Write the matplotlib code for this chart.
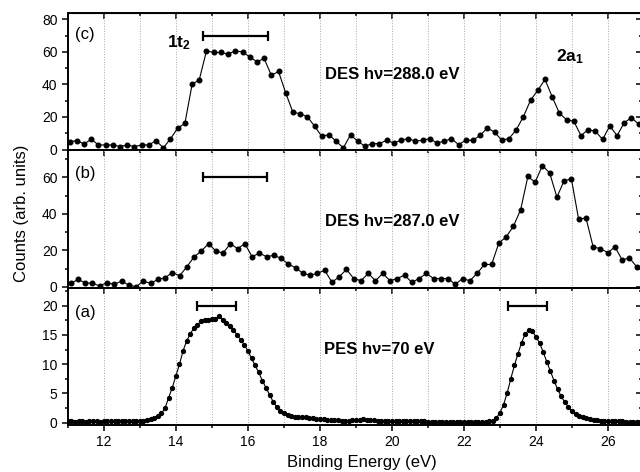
import numpy as np
import matplotlib
matplotlib.use('Agg')
import matplotlib.pyplot as plt
from matplotlib.ticker import MultipleLocator

plt.rcParams['font.family'] = ['Liberation Sans', 'DejaVu Sans']
plt.rcParams['mathtext.fontset'] = 'custom'
plt.rcParams['mathtext.rm'] = 'Liberation Sans'
plt.rcParams['mathtext.bf'] = 'Liberation Sans:bold'

# (c) DES hv=288.0 eV, 0.2 eV steps
des288_start, des288_step = 11.05, 0.2
des288 = [4.7, 5.5, 3.4, 6.3, 2.8, 2.8, 2.8, 1.8, 2.8, 1.8,
          2.8, 2.8, 5.5, 1.0, 6.5, 13.2, 16.0, 40.0, 43.0, 60.7,
          59.7, 59.7, 58.7, 60.7, 60.0, 57.0, 54.0, 56.0, 45.7, 48.0,
          34.8, 22.9, 22.0, 20.2, 14.4,
          8.1, 9.1, 5.1, 1.0, 9.1, 5.1, 2.0, 3.6, 3.6, 5.7,
          4.0, 5.7, 6.7, 5.1, 5.7, 6.7, 4.0, 5.1, 6.7, 3.0,
          5.7, 5.7, 8.7, 13.2, 10.7, 5.7, 6.7, 12.1, 20.2, 30.4,
          36.4, 43.1, 32.4, 22.3, 18.3, 17.4, 8.5, 12.3, 11.2, 6.2,
          14.6, 8.5, 16.5, 19.6, 15.6]

# (b) DES hv=287.0 eV
des287_start, des287_step = 11.08, 0.2015
des287 = [1.8, 4.0, 2.2, 1.8, 0.5, 2.2, 1.3, 3.1, 0.9, 0.0,
          3.1, 1.8, 4.0, 4.9, 7.8, 6.0, 10.9, 16.4, 19.6, 23.6,
          19.6, 18.5, 23.6, 20.9, 23.6, 16.4, 18.5, 16.4, 17.3, 15.5,
          12.4, 10.4, 7.3, 6.4, 7.3,
          9.1, 2.4, 5.5, 9.5, 4.5, 3.3, 7.3, 3.3, 7.3, 3.3,
          4.5, 6.4, 2.4, 4.5, 7.3, 4.5, 4.5, 4.5, 1.3, 4.5,
          3.3, 7.3, 12.2, 12.2, 24.0, 27.3, 33.1, 42.2, 60.5, 57.3,
          66.4, 62.4, 49.1, 58.2, 59.0, 36.9, 37.8, 21.8, 20.9, 18.7,
          21.8, 14.7, 15.8, 10.9]

# (a) PES hv=70 eV, 0.1 eV steps
pes_start, pes_step = 11.0, 0.1
pes70 = [0.2, 0.2, 0.15, 0.2, 0.2, 0.15, 0.2, 0.2, 0.2, 0.15,
         0.2, 0.2, 0.2, 0.2, 0.2, 0.2, 0.2, 0.25, 0.25, 0.3,
         0.3, 0.35, 0.45, 0.6, 0.8, 1.1,
         1.6, 2.5, 4.3, 6.0, 8.0, 10.0, 12.3, 14.0, 15.2, 16.2,
         16.7, 17.4, 17.6, 17.6, 17.7, 17.8, 18.2, 17.6, 17.0, 16.6,
         15.9, 15.0, 14.2, 13.3, 12.3, 11.0, 9.8, 8.6, 7.2, 6.0,
         4.8, 3.6, 2.7, 2.0, 1.6,
         1.3, 1.15, 1.05, 1.0, 0.95, 0.9, 0.85, 0.75, 0.65, 0.6,
         0.55, 0.5, 0.45, 0.4, 0.4, 0.35, 0.35, 0.35, 0.4, 0.45,
         0.5, 0.55, 0.5, 0.45, 0.4, 0.35, 0.3, 0.3, 0.25, 0.25,
         0.2, 0.2, 0.2, 0.2, 0.2, 0.2, 0.2, 0.2, 0.2,
         0.15, 0.15, 0.15, 0.15, 0.15, 0.15, 0.15, 0.15, 0.15, 0.15,
         0.15, 0.15, 0.15, 0.15, 0.15, 0.15, 0.15,
         0.2, 0.35, 0.8, 1.7, 3.1, 5.1, 7.5, 9.8, 11.8, 13.7,
         15.2, 15.8, 15.6, 14.7, 13.6, 12.1, 10.4, 8.8, 7.2, 5.7,
         4.5, 3.5, 2.7, 2.0, 1.5, 1.2, 1.0, 0.8, 0.65, 0.5,
         0.42, 0.36, 0.3, 0.26,
         0.22, 0.2, 0.2, 0.2, 0.18, 0.18, 0.18, 0.18, 0.18]

# horizontal bars (left, right, height)
bars_c = [(14.75, 16.56, 69.6)]
bars_b = [(14.75, 16.53, 60.0)]
bars_a = [(14.6, 15.66, 20.0), (23.22, 24.31, 20.0)]


def energies(start, step, n):
    return start + step * np.arange(n)


def style_axis(ax, ylim, ymajor, yminor, top_ticks=False):
    ax.set_facecolor('none')
    ax.set_xlim(11, 26.95)
    ax.set_ylim(*ylim)
    ax.xaxis.set_major_locator(MultipleLocator(2))
    ax.xaxis.set_minor_locator(MultipleLocator(1))
    ax.yaxis.set_major_locator(MultipleLocator(ymajor))
    ax.yaxis.set_minor_locator(MultipleLocator(yminor))
    ax.tick_params(which='both', direction='out', top=False, right=False,
                   labelsize=10, width=1.1)
    ax.tick_params(which='major', length=4)
    ax.tick_params(which='minor', length=2.5)
    ax.grid(axis='x', which='both', ls=':', color='0.65', lw=0.7)
    ax.set_axisbelow(True)
    for s in ax.spines.values():
        s.set_linewidth(1.4)
    sec = ax.secondary_yaxis('right')
    sec.yaxis.set_major_locator(MultipleLocator(ymajor))
    sec.yaxis.set_minor_locator(MultipleLocator(yminor))
    sec.tick_params(which='both', direction='in', labelright=False, width=1.1)
    sec.tick_params(which='major', length=4)
    sec.tick_params(which='minor', length=2.5)
    if top_ticks:
        st = ax.secondary_xaxis('top')
        st.xaxis.set_major_locator(MultipleLocator(2))
        st.xaxis.set_minor_locator(MultipleLocator(1))
        st.tick_params(which='both', direction='in', labeltop=False, width=1.1)
        st.tick_params(which='major', length=4)
        st.tick_params(which='minor', length=2.5)


def draw_bars(ax, bars):
    for lo, hi, y in bars:
        ax.errorbar((lo + hi) / 2, y, xerr=(hi - lo) / 2, color='k', lw=1.6,
                    capsize=3.5, capthick=1.6)


fig = plt.figure(figsize=(6.4, 4.72), dpi=100)
fig.patch.set_facecolor('white')
gs = fig.add_gridspec(3, 1, left=0.106, right=1.0035, top=0.9725, bottom=0.0996,
                      hspace=0)
ax_c = fig.add_subplot(gs[0])
ax_b = fig.add_subplot(gs[1], sharex=ax_c)
ax_a = fig.add_subplot(gs[2], sharex=ax_c)

# (c)
ax_c.plot(energies(des288_start, des288_step, len(des288)), des288, '-o',
          color='k', lw=0.8, ms=3.3)
style_axis(ax_c, (-0.5, 84), 20, 10, top_ticks=True)
draw_bars(ax_c, bars_c)
ax_c.text(11.2, 71, '(c)', fontsize=12, va='center')
ax_c.text(13.75, 66, r'$\mathbf{1t_2}$', fontsize=12.5, va='center')
ax_c.text(18.15, 46, 'DES h\u03bd=288.0 eV', fontsize=12, fontweight='bold', va='center')
ax_c.text(24.55, 57, r'$\mathbf{2a_1}$', fontsize=12.5, va='center')

# (b)
ax_b.plot(energies(des287_start, des287_step, len(des287)), des287, '-o',
          color='k', lw=0.8, ms=3.3)
style_axis(ax_b, (-0.5, 74.8), 20, 10)
draw_bars(ax_b, bars_b)
ax_b.text(11.2, 62, '(b)', fontsize=12, va='center')
ax_b.text(18.15, 36, 'DES h\u03bd=287.0 eV', fontsize=12, fontweight='bold', va='center')

# (a)
ax_a.plot(energies(pes_start, pes_step, len(pes70)), pes70, '-o',
          color='k', lw=0.8, ms=2.8)
style_axis(ax_a, (-0.4, 23.1), 5, 2.5)
draw_bars(ax_a, bars_a)
ax_a.text(11.2, 18.8, '(a)', fontsize=12, va='center')
ax_a.text(18.1, 12.6, 'PES h\u03bd=70 eV', fontsize=12, fontweight='bold', va='center')

plt.setp(ax_c.get_xticklabels(), visible=False)
plt.setp(ax_b.get_xticklabels(), visible=False)

fig.text(0.033, 0.549, 'Counts (arb. units)', rotation=90, fontsize=12,
         ha='center', va='center')
fig.text(0.566, 0.021, 'Binding Energy (eV)', fontsize=12, ha='center', va='center')

fig.savefig('out.png', dpi=100)
